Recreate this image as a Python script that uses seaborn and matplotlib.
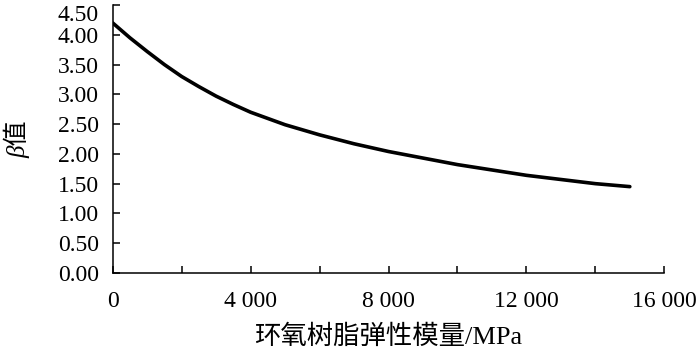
import pandas as pd
import seaborn as sns
import matplotlib.pyplot as plt
from matplotlib.ticker import FixedLocator
from matplotlib.transforms import ScaledTranslation

# 环氧树脂弹性模量 (MPa) 与 β 值
modulus = [0, 500, 1000, 1500, 2000, 2500, 3000, 3500, 4000, 5000, 6000,
           7000, 8000, 9000, 10000, 11000, 12000, 13000, 14000, 15000]
beta = [4.20, 3.95, 3.72, 3.50, 3.30, 3.13, 2.97, 2.83, 2.70, 2.49, 2.32,
        2.17, 2.04, 1.93, 1.82, 1.73, 1.64, 1.57, 1.50, 1.45]

x_major = [0, 4000, 8000, 12000, 16000]
x_major_labels = ['0', '4 000', '8 000', '12 000', '16 000']
x_minor = [2000, 6000, 10000, 14000]
y_ticks = [0.0, 0.5, 1.0, 1.5, 2.0, 2.5, 3.0, 3.5, 4.0, 4.5]

sns.set_style("ticks")
plt.rcParams['font.family'] = ['Liberation Serif', 'Noto Sans CJK SC']

df = pd.DataFrame({'E': modulus, 'beta': beta})

fig = plt.figure(figsize=(7, 3.62), dpi=100)
ax = fig.add_axes([0.161, 0.246, 0.788, 0.740])

sns.lineplot(x='E', y='beta', data=df, color='black', linewidth=2.6, ax=ax)

ax.set_xlim(0, 16000)
ax.set_ylim(0, 4.5)
ax.set_xticks(x_major)
ax.set_xticklabels(x_major_labels)
ax.xaxis.set_minor_locator(FixedLocator(x_minor))
ax.set_yticks(y_ticks)
ax.set_yticklabels([f'{v:.2f}' for v in y_ticks])

ax.tick_params(axis='both', which='both', direction='in', length=5,
               width=1.1, color='black', labelsize=17, labelcolor='black')
ax.tick_params(axis='x', which='both', pad=13)
ax.tick_params(axis='y', pad=10)

# 顶端 4.50 标签稍微下移，避免被裁切
top_label = ax.get_yticklabels()[-1]
top_label.set_transform(top_label.get_transform() +
                        ScaledTranslation(0, -6 / 72, fig.dpi_scale_trans))

sns.despine(ax=ax)
for side in ['left', 'bottom']:
    ax.spines[side].set_linewidth(1.1)
    ax.spines[side].set_color('black')

ax.set_xlabel('环氧树脂弹性模量/MPa', fontsize=19, labelpad=9, color='black')
ax.set_ylabel('β值', fontsize=18, style='italic', labelpad=20, color='black')

plt.savefig('out.png', dpi=100)
plt.close()
